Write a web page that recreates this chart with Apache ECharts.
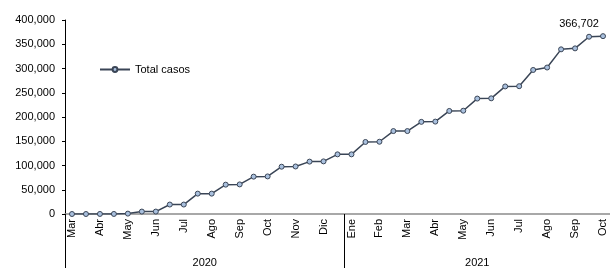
<!DOCTYPE html>
<html>
<head>
<meta charset="utf-8">
<script src="https://cdn.jsdelivr.net/npm/echarts@6/dist/echarts.min.js"></script>
<style>
  html, body { margin: 0; padding: 0; background: #fff; }
  #chart { width: 610px; height: 268px; }
</style>
</head>
<body>
<div id="chart"></div>
<script>
// meses por año (dos lecturas por mes: inicio y mitad)
const months2020 = ["Mar", "Abr", "May", "Jun", "Jul", "Ago", "Sep", "Oct", "Nov", "Dic"];
const months2021 = ["Ene", "Feb", "Mar", "Abr", "May", "Jun", "Jul", "Ago", "Sep", "Oct"];
const years = ["2020", "2021"];
const yTicks = [0, 50000, 100000, 150000, 200000, 250000, 300000, 350000, 400000];
const seriesName = "Total casos";
const totalCasos = [
  0, 0, 100, 100, 800, 5000, 5000, 19500, 19500, 42000,
  42000, 60500, 61000, 77000, 77500, 97500, 98000, 108000, 108500, 123000,
  123000, 148500, 149000, 171000, 171000, 190000, 190500, 212500, 213000, 238000,
  238500, 263000, 263500, 297000, 302000, 339500, 341500, 365500, 366702
];

// categorías: "año|mes|parte"
const categories = [];
const yearOfCat = [];
months2020.forEach(m => {
  categories.push("2020|" + m + "|1"); yearOfCat.push("2020");
  categories.push("2020|" + m + "|15"); yearOfCat.push("2020");
});
months2021.forEach(m => {
  categories.push("2021|" + m + "|1"); yearOfCat.push("2021");
  categories.push("2021|" + m + "|15"); yearOfCat.push("2021");
});
categories.length = totalCasos.length;
yearOfCat.length = totalCasos.length;

// indices del primer y último elemento de cada año
const firstIdx = years.map(y => yearOfCat.indexOf(y));
const lastIdx = years.map(y => yearOfCat.lastIndexOf(y));

const font = "'Liberation Sans', Arial, sans-serif";
const chart = echarts.init(document.getElementById("chart"));

chart.setOption({
  animation: false,
  textStyle: { fontFamily: font },
  grid: { left: 65, right: -3, top: 20, bottom: 54 },
  legend: {
    left: 94,
    top: 59,
    itemWidth: 30,
    itemHeight: 6,
    data: [seriesName],
    textStyle: { fontSize: 11, color: "#000", fontFamily: font }
  },
  xAxis: [
    {
      type: "category",
      data: categories,
      boundaryGap: true,
      axisLine: { show: true, lineStyle: { color: "#8c8c8c", width: 1.5 } },
      axisTick: { show: false },
      axisLabel: {
        interval: 0,
        rotate: 90,
        margin: 5,
        fontSize: 11,
        color: "#000",
        formatter: v => {
          const p = v.split("|");
          return p[2] === "1" ? p[1] : "";
        }
      }
    },
    {
      type: "category",
      data: yearOfCat,
      position: "bottom",
      offset: 54,
      boundaryGap: true,
      axisLine: { show: false },
      axisTick: {
        show: true,
        inside: true,
        length: 54,
        interval: i => firstIdx.indexOf(i) >= 0,
        lineStyle: { color: "#000", width: 1 }
      },
      axisLabel: {
        inside: true,
        margin: 0,
        fontSize: 11,
        color: "#000",
        interval: i => years.some((y, k) => i === Math.floor((firstIdx[k] + lastIdx[k]) / 2)),
        formatter: v => {
          const k = years.indexOf(v);
          const span = lastIdx[k] - firstIdx[k] + 1;
          // grupo con número par de categorías: centrar entre dos
          return span % 2 === 0 ? "{s|" + v + "}" : v;
        },
        rich: { s: { fontSize: 11, color: "#000", padding: [0, 0, 0, 14] } }
      }
    }
  ],
  yAxis: {
    type: "value",
    min: yTicks[0],
    max: yTicks[yTicks.length - 1],
    interval: yTicks[1] - yTicks[0],
    axisLine: { show: true, lineStyle: { color: "#000", width: 1 } },
    axisTick: { show: true, length: 3, lineStyle: { color: "#000" } },
    splitLine: { show: false },
    axisLabel: {
      fontSize: 11,
      color: "#000",
      margin: 10,
      formatter: v => v.toLocaleString("en-US")
    }
  },
  series: [
    {
      name: seriesName,
      type: "line",
      xAxisIndex: 0,
      data: totalCasos.map((v, i) => i === totalCasos.length - 1
        ? { value: v, label: { show: true, position: "top", offset: [-24, 0], distance: 4,
            fontSize: 11, color: "#000", formatter: p => p.value.toLocaleString("en-US") } }
        : v),
      symbol: "circle",
      symbolSize: 5,
      showAllSymbol: true,
      lineStyle: { color: "#3a4556", width: 1.5 },
      itemStyle: { color: "#a9c0de", borderColor: "#3a4556", borderWidth: 1 }
    }
  ]
});
</script>
</body>
</html>
